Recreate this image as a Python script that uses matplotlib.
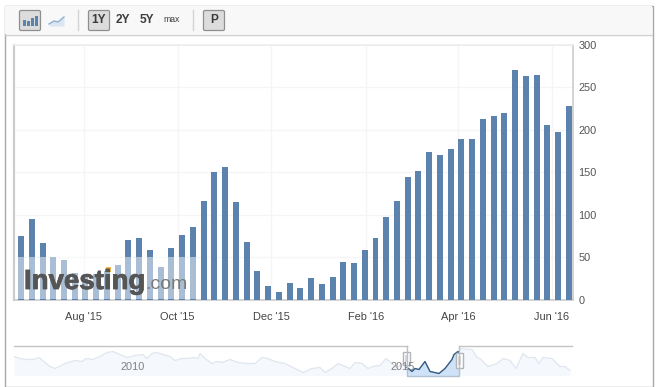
import pandas as pd
import matplotlib
matplotlib.use("Agg")
import matplotlib.pyplot as plt
import matplotlib.dates as mdates
import matplotlib.patheffects as pe
from matplotlib.patches import Rectangle, FancyBboxPatch

W, H = 661, 387
plt.rcParams['font.family'] = ['Liberation Sans', 'DejaVu Sans']

# ---- data ----
first_week = "2015-06-21"
weekly_values = [75, 95, 67, 50, 47, 31, 28, 30, 34, 41, 70, 73, 58, 38, 61, 76, 86,
                 116, 150, 156, 115, 68, 34, 16, 9, 20, 14, 25, 18, 27, 44, 43, 58,
                 73, 97, 116, 144, 152, 174, 170, 177, 189, 189, 213, 216, 220, 271,
                 264, 265, 206, 197, 228]
y_ticks = [0, 50, 100, 150, 200, 250, 300]
month_ticks = ["2015-08-01", "2015-10-01", "2015-12-01", "2016-02-01", "2016-04-01", "2016-06-01"]
month_labels = ["Aug '15", "Oct '15", "Dec '15", "Feb '16", "Apr '16", "Jun '16"]

# long-range navigator series (horizontal position, level above the baseline)
nav_pos = [0, 6, 13, 19, 25, 31, 36, 41, 51, 61, 68, 72, 79, 86, 93, 99, 106, 113, 121, 129,
           133, 138, 143, 149, 156, 161, 168, 174, 179, 184, 186, 191, 198, 203, 208, 216,
           224, 233, 241, 248, 254, 261, 271, 279, 289, 298, 306, 311, 318, 324, 331, 336,
           341, 348, 354, 359, 366, 372, 378, 383, 388, 393, 398, 401, 405, 411, 416, 425,
           431, 438, 440, 444, 445, 446, 458, 463, 466, 474, 483, 489, 496, 502, 509, 514,
           521, 525, 529, 538, 546, 551, 556]
nav_level = [19, 17, 16, 16, 18, 13, 9, 7, 12, 15, 14, 17, 16, 19, 23, 24, 21, 18, 20, 21,
             17, 22, 23, 21, 19, 15, 17, 17, 18, 17, 22, 17, 12, 14, 13, 16, 13, 12, 12, 18,
             17, 14, 12, 8, 3, 7, 8, 3, 7, 12, 9, 7, 13, 12, 7, 9, 10, 17, 12, 8, 12, 8, 4,
             7, 6, 14, 4, 2, 7, 16, 21, 24, 23, 27, 26, 18, 17, 9, 12, 17, 15, 7, 22, 18,
             18, 12, 18, 17, 9, 9, 5]
nav_labels = ["2010", "2015"]

# ---- figure ----
fig = plt.figure(figsize=(W / 100, H / 100), dpi=100, facecolor="white")


def px_axes(x0, y0, x1, y1, **kw):
    return fig.add_axes([x0 / W, 1 - y1 / H, (x1 - x0) / W, (y1 - y0) / H], **kw)


# ---- page chrome ----
ch = fig.add_axes([0, 0, 1, 1], zorder=0)
ch.set_xlim(0, W)
ch.set_ylim(H, 0)
ch.axis("off")
ch.add_patch(Rectangle((4.5, 5.5), 648, 381, fc="white", ec="#a8a8a8", lw=1))
ch.add_patch(Rectangle((5, 6), 647, 28, fc="#f8f8f8", ec="none"))
ch.plot([5, 652], [34.5, 34.5], color="#cfcfcf", lw=1)
for sx in (77.5, 192.5):
    ch.plot([sx, sx], [10, 30], color="#d4d4d4", lw=1)
for bx in (19.5, 88.5, 203.5):
    ch.add_patch(FancyBboxPatch((bx + 1, 11.5), 19, 18, boxstyle="round,pad=1,rounding_size=1.5",
                                fc="#dcdcdc", ec="#8f8f8f", lw=0.9))
for bx, bh in ((22.5, 6), (26.5, 5), (30.5, 8), (34.5, 10)):
    ch.add_patch(Rectangle((bx, 26 - bh), 3, bh, fc="#5b83ae", ec="none"))
ch.fill_between([49, 54, 58, 64, 64, 49], [24, 21, 22, 17, 26, 26], 26, color="#dbe6f2", lw=0)
ch.plot([49, 54, 58, 64], [24, 21, 22, 17], color="#8fb0d0", lw=1)
for cx, s, sz in ((99, "1Y", 8.6), (123, "2Y", 8.6), (147, "5Y", 8.6), (172, "max", 6.2), (214, "P", 8.6)):
    ch.text(cx, 20, s, ha="center", va="center", fontsize=sz, color="#3c3c3c",
            fontweight="bold" if sz > 7 else "normal")

# ---- main chart ----
ax = px_axes(14, 45, 573, 299.5, zorder=2)
ax.patch.set_alpha(0)
weeks = pd.date_range(first_week, periods=len(weekly_values), freq="7D")
ax.bar(weeks, weekly_values, width=3.9, color="#5b83ae", zorder=3)
ax.set_xlim(pd.Timestamp("2015-06-16 10:00"), pd.Timestamp("2016-06-14 17:00"))
ax.set_ylim(0, 300)
ax.yaxis.tick_right()
ax.set_yticks(y_ticks)
ax.set_xticks([mdates.date2num(pd.Timestamp(d)) for d in month_ticks])
ax.set_xticklabels(month_labels)
ax.tick_params(axis="x", length=0, pad=9, labelsize=7.9, labelcolor="#444444")
ax.tick_params(axis="y", length=0, pad=4, labelsize=7.9, labelcolor="#555555")
ax.grid(True, color="#f5f5f5", lw=1, zorder=0)
ax.set_axisbelow(True)
for side, col, lw in (("left", "#cccccc", 1.6), ("bottom", "#cccccc", 1.2),
                      ("right", "#cccccc", 1.2), ("top", "#ececec", 1.2)):
    ax.spines[side].set_color(col)
    ax.spines[side].set_linewidth(lw)

# ---- navigator ----
nav = px_axes(14, 345, 572, 375.5, zorder=2)
nav.set_xlim(0, 558)
nav.set_ylim(0, 30.5)
nav.axis("off")
nav.fill_between(nav_pos, nav_level, 0, color="#f5f8fc", lw=0)
nav.plot(nav_pos, nav_level, color="#dfe6ee", lw=0.9)
sel_x = [p for p in nav_pos if 393 <= p <= 445]
sel_y = [v for p, v in zip(nav_pos, nav_level) if 393 <= p <= 445]
nav.fill_between(sel_x, sel_y, 0, color="#cfe2f7", lw=0)
nav.plot(sel_x, sel_y, color="#2f5a85", lw=1)

ch2 = fig.add_axes([0, 0, 1, 1], zorder=4)
ch2.set_xlim(0, W)
ch2.set_ylim(H, 0)
ch2.axis("off")
ch2.patch.set_alpha(0)
# navigator frame and handles
ch2.plot([14, 407], [345.5, 345.5], color="#c4c4c4", lw=1)
ch2.plot([459, 572], [345.5, 345.5], color="#c4c4c4", lw=1)
ch2.plot([407, 407, 459, 459], [345.5, 375.5, 375.5, 345.5], color="#b3c2d2", lw=1)
for hx, hy, hh in ((402.5, 352, 13), (455.5, 353, 15)):
    ch2.add_patch(Rectangle((hx, hy), 7, hh, fc="white", ec="#b5b5b5", lw=1))
    ch2.add_patch(Rectangle((hx + 2, hy + 3), 3, hh - 6, fc="#d9d9d9", ec="none"))
for cx, s in zip((133, 403), nav_labels):
    ch2.text(cx, 367, s, ha="center", va="center", fontsize=7.9, color="#808080")
# watermark
ch2.add_patch(Rectangle((15, 257), 182, 42, fc="white", ec="none", alpha=0.48))
ch2.text(24, 282, "Investing", ha="left", va="center", fontsize=19.9, fontweight="bold",
         color="#555555", path_effects=[pe.withStroke(linewidth=0.6, foreground="#555555")])
ch2.text(145, 284.5, ".com", ha="left", va="center", fontsize=14, color="#7a7a7a")
ch2.add_patch(Rectangle((105.5, 267), 5, 4.5, fc="#f2b84b", ec="none"))

fig.savefig("out.png", dpi=100, facecolor="white")
